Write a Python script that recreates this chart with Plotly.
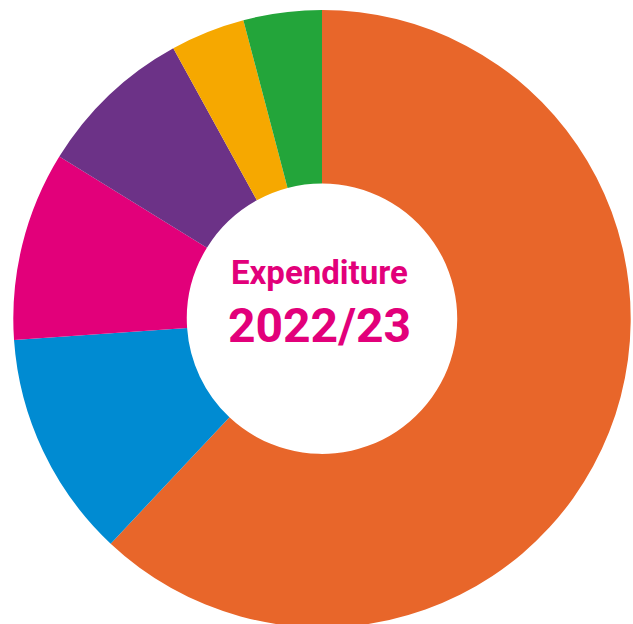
import plotly.graph_objects as go

categories = ["Orange", "Blue", "Magenta", "Purple", "Yellow", "Green"]
values = [62.0, 11.9, 9.9, 8.2, 3.9, 4.1]
colors = ["#E8662A", "#008BD2", "#E2007A", "#6C3287", "#F6A800", "#23A53A"]
title_line1 = "Expenditure"
title_line2 = "2022/23"

W, H = 633, 630
cx, cy, r = 322.0, 318.7, 308.7
fig = go.Figure(go.Pie(
    labels=categories,
    values=values,
    marker=dict(colors=colors, line=dict(width=0)),
    hole=0.438,
    sort=False,
    direction="clockwise",
    rotation=0,
    textinfo="none",
    hoverinfo="label+percent",
    domain=dict(x=[(cx - r) / W, (cx + r) / W], y=[1 - (cy + r) / H, 1 - (cy - r) / H]),
))

fig.add_annotation(text=f"<b>{title_line1}</b>", x=319.5 / W, y=1 - 272 / H,
                   xref="paper", yref="paper", showarrow=False,
                   font=dict(family="Roboto", size=33, color="#E2007A"))
fig.add_annotation(text=f"<b>{title_line2}</b>", x=319.5 / W, y=1 - 325 / H,
                   xref="paper", yref="paper", showarrow=False,
                   font=dict(family="Roboto", size=48, color="#E2007A"))

fig.update_layout(width=W, height=H, margin=dict(l=0, r=0, t=0, b=0),
                  showlegend=False, paper_bgcolor="white", plot_bgcolor="white")
fig.write_html("out.html", config={"displayModeBar": False},
               post_script="document.body.style.margin='0';document.body.style.overflow='hidden';")
